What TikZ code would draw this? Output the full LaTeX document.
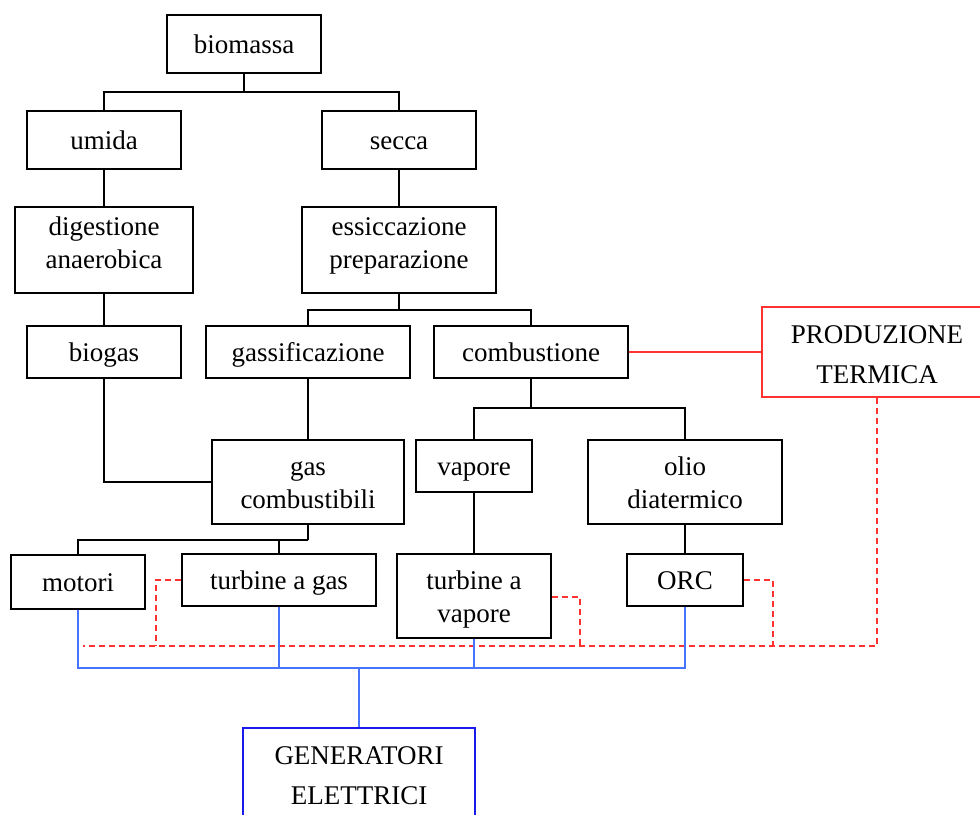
\documentclass[tikz,border=0pt]{standalone}
\usepackage{fontspec}
\setmainfont{Liberation Serif}
\definecolor{lnred}{RGB}{255,50,50}
\definecolor{lnblue}{RGB}{70,115,255}
\definecolor{bxblue}{RGB}{25,25,235}
\begin{document}
\begin{tikzpicture}[x=1pt,y=-1pt,
  box/.style={draw=black, line width=1.5pt, align=center, inner sep=0pt,
    font=\fontsize{27}{33}\selectfont, text height=19pt, text depth=1pt},
  two/.style={text height=54pt},
  twohi/.style={text height=37pt},
  caps/.style={font=\fontsize{27}{40}\selectfont, text height=63pt},
  sz/.style 2 args={minimum width=#1pt, minimum height=#2pt},
  blk/.style={draw=black, line width=1.4pt},
  redl/.style={draw=lnred, line width=1.4pt},
  redd/.style={draw=lnred, line width=1.4pt, dash pattern=on 6pt off 4pt},
  bluel/.style={draw=lnblue, line width=1.4pt}]
\clip (0,0) rectangle (980,814);
\fill[white] (0,0) rectangle (980,814);
% nodes
\node[box, sz={154}{58}] (bio) at (244,44) {biomassa};
\node[box, sz={154}{58}] (umi) at (104,140) {umida};
\node[box, sz={154}{58}] (sec) at (399,140) {secca};
\node[box, twohi, sz={178}{86}] (dig) at (104,250) {digestione\\anaerobica};
\node[box, twohi, sz={194}{86}] (ess) at (399,250) {essiccazione\\preparazione};
\node[box, sz={154}{52}] (bgs) at (104,352) {biogas};
\node[box, sz={204}{52}] (gsf) at (308,352) {gassificazione};
\node[box, sz={194}{52}] (cmb) at (531,352) {combustione};
\node[box, caps, draw=lnred, sz={230}{90}] (prod) at (877,352) {PRODUZIONE\\TERMICA};
\node[box, two, sz={192}{84}] (gcb) at (308,482) {gas\\combustibili};
\node[box, sz={116}{52}] (vap) at (474,466) {vapore};
\node[box, two, sz={194}{84}] (olio) at (685,482) {olio\\diatermico};
\node[box, sz={134}{54}] (mot) at (78,582) {motori};
\node[box, sz={194}{52}] (tgas) at (279,580) {turbine a gas};
\node[box, two, sz={154}{84}] (tvap) at (474,596) {turbine a\\vapore};
\node[box, sz={116}{52}] (orc) at (685,580) {ORC};
\node[box, caps, draw=bxblue, sz={232}{90}] (gen) at (359,773) {GENERATORI\\ELETTRICI};
% black tree connectors
\draw[blk] (bio.south) -- (244,92) coordinate (b1);
\draw[blk] (umi.north) |- (b1) -| (sec.north);
\draw[blk] (umi.south) -- (dig.north);
\draw[blk] (sec.south) -- (ess.north);
\draw[blk] (dig.south) -- (bgs.north);
\draw[blk] (ess.south) -- (399,310) coordinate (b2);
\draw[blk] (gsf.north) |- (b2) -| (cmb.north);
\draw[blk] (bgs.south) |- (gcb.west);
\draw[blk] (gsf.south) -- (gcb.north);
\draw[blk] (cmb.south) -- (531,408) coordinate (b3);
\draw[blk] (vap.north) |- (b3) -| (olio.north);
\draw[blk] (gcb.south) -- (308,540) coordinate (b4);
\draw[blk] (b4) -| (mot.north);
\draw[blk] (tgas.north) -- (tgas.north |- b4);
\draw[blk] (vap.south) -- (tvap.north);
\draw[blk] (olio.south) -- (orc.north);
% red
\draw[redl] (cmb.east) -- (prod.west);
\coordinate (r0) at (877,646);
\draw[redd] (prod.south) -- (r0) -- (83,646);
\draw[redd] (tgas.west) -| (156,646);
\draw[redd] (tvap.east |- 0,597) -| (580,646);
\draw[redd] (orc.east) -| (773,646);
% blue
\coordinate (bl) at (78,668);
\coordinate (br) at (685,668);
\draw[bluel] (mot.south) -- (bl) -- (br) -- (orc.south);
\draw[bluel] (tgas.south) -- (tgas.south |- bl);
\draw[bluel] (tvap.south) -- (tvap.south |- bl);
\draw[bluel] (gen.north |- bl) -- (gen.north);
\end{tikzpicture}
\end{document}
